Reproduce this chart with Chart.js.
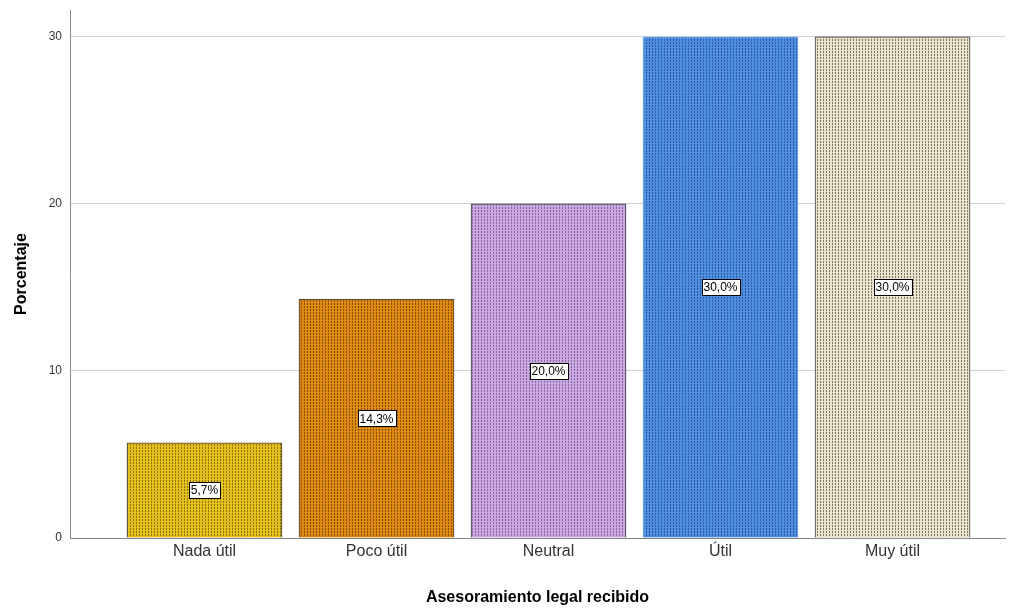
<!DOCTYPE html>
<html>
<head>
<meta charset="utf-8">
<script src="https://cdn.jsdelivr.net/npm/chart.js@4"></script>
<style>
  body { margin: 0; background: #fff; }
  #grafico { display: block; }
</style>
</head>
<body>
<canvas id="grafico" width="1019" height="608"></canvas>
<script>
// categorias y porcentajes
const categorias = ['Nada útil', 'Poco útil', 'Neutral', 'Útil', 'Muy útil'];
const porcentajes = [5.7, 14.3, 20.0, 30.0, 30.0];
const ticksY = [0, 10, 20, 30];

// colores base / punto oscuro de la trama
const baseColors = ['#e4c01c', '#de8a12', '#c9a8e2', '#4f8ee0', '#ebe3cd'];
const dotColors = ['#8f7410', '#8a5108', '#8a6aa2', '#2b5c9e', '#7e7662'];
const borderColors = ['#3a3a3a', '#3a3a3a', '#3a3a3a', '#7fb0ee', '#3a3a3a'];

function trama(base, dot) {
    const c = document.createElement('canvas');
    c.width = 3; c.height = 3;
    const g = c.getContext('2d');
    g.fillStyle = base;
    g.fillRect(0, 0, 3, 3);
    g.fillStyle = dot;
    g.fillRect(1, 0, 1, 2);
    return g.createPattern(c, 'repeat');
}

const etiquetas = {
    id: 'etiquetas',
    afterDatasetsDraw(chart) {
        const ctx = chart.ctx;
        const meta = chart.getDatasetMeta(0);
        ctx.save();
        ctx.font = '12px Arial, "Liberation Sans", sans-serif';
        ctx.textAlign = 'center';
        ctx.textBaseline = 'middle';
        meta.data.forEach((bar, i) => {
            const txt = porcentajes[i].toFixed(1).replace('.', ',') + '%';
            const cy = (bar.y + bar.base) / 2;
            const w = Math.round(ctx.measureText(txt).width + 4);
            const h = 16;
            const x0 = Math.round(bar.x - w / 2) + 0.5;
            const y0 = Math.round(cy - h / 2) + 0.5;
            ctx.fillStyle = '#fff';
            ctx.fillRect(x0, y0, w, h);
            ctx.strokeStyle = '#000';
            ctx.lineWidth = 1;
            ctx.strokeRect(x0, y0, w, h);
            ctx.fillStyle = '#000';
            ctx.fillText(txt, bar.x, cy + 1);
        });
        ctx.restore();
    }
};

const ctx = document.getElementById('grafico').getContext('2d');
const grafico = new Chart(ctx, {
    type: 'bar',
    data: {
        datasets: [{
            data: porcentajes.map((v, i) => ({ x: i, y: v })),
            backgroundColor: baseColors.map((c, i) => trama(c, dotColors[i])),
            borderColor: borderColors,
            borderWidth: 1,
            borderSkipped: 'bottom',
            barThickness: 155
        }]
    },
    options: {
        responsive: false,
        animation: false,
        layout: { padding: { top: 10, right: 14, left: 0, bottom: 0 } },
        plugins: { legend: { display: false }, tooltip: { enabled: false } },
        scales: {
            x: {
                type: 'linear',
                offset: false,
                min: -0.782,
                max: 4.654,
                afterBuildTicks: s => { s.ticks = categorias.map((c, i) => ({ value: i })); },
                afterFit: s => { s.height = 70; s.paddingLeft = 0; s.paddingRight = 0; },
                grid: { display: false, drawTicks: false, offset: false },
                border: { color: '#8a8a8a', width: 1 },
                ticks: {
                    autoSkip: false,
                    maxRotation: 0,
                    padding: 4,
                    color: '#333',
                    font: { family: 'Arial, "Liberation Sans", sans-serif', size: 16 },
                    callback: v => categorias[v]
                },
                title: {
                    display: true,
                    text: 'Asesoramiento legal recibido',
                    color: '#000',
                    padding: { top: 17, bottom: 1 },
                    font: { family: 'Arial, "Liberation Sans", sans-serif', size: 16, weight: 'bold' }
                }
            },
            y: {
                min: 0,
                max: 31.6,
                afterBuildTicks: s => { s.ticks = ticksY.map(v => ({ value: v })); },
                afterFit: s => { s.width = 70; s.paddingTop = 0; s.paddingBottom = 0; },
                grid: {
                    color: c => (c.tick && c.tick.value === 0) ? 'rgba(0,0,0,0)' : '#d2d2d2',
                    drawTicks: false
                },
                border: { color: '#8a8a8a', width: 1 },
                ticks: {
                    padding: 8,
                    color: '#333',
                    font: { family: 'Arial, "Liberation Sans", sans-serif', size: 12 }
                },
                title: {
                    display: true,
                    text: 'Porcentaje',
                    color: '#000',
                    padding: { top: 12, bottom: 4 },
                    font: { family: 'Arial, "Liberation Sans", sans-serif', size: 16, weight: 'bold' }
                }
            }
        }
    },
    plugins: [etiquetas]
});
</script>
</body>
</html>
